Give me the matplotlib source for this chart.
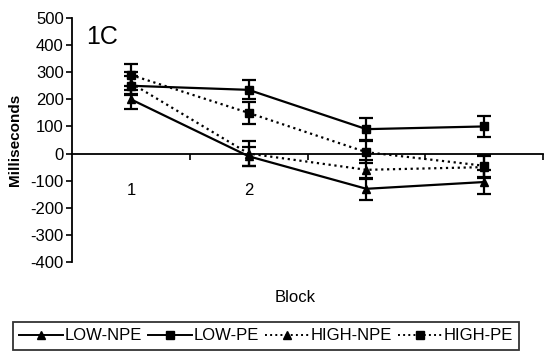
import numpy as np
import matplotlib.pyplot as plt
from matplotlib.lines import Line2D

plt.rcParams['font.family'] = ['Liberation Sans Narrow', 'Liberation Sans', 'DejaVu Sans']
plt.rcParams['axes.unicode_minus'] = False

blocks = [1, 2, 3, 4]
tick_labels = ['1', '2', '', '']

low_npe = [200, -10, -130, -105]
low_pe = [250, 235, 90, 100]
high_npe = [260, 0, -60, -50]
high_pe = [290, 150, 5, -45]

low_npe_err = [35, 35, 40, 45]
low_pe_err = [35, 35, 40, 40]
high_npe_err = [40, 45, 35, 40]
high_pe_err = [40, 40, 40, 40]

series = [
    ('LOW-NPE', low_npe, low_npe_err, '-', '^'),
    ('LOW-PE', low_pe, low_pe_err, '-', 's'),
    ('HIGH-NPE', high_npe, high_npe_err, ':', '^'),
    ('HIGH-PE', high_pe, high_pe_err, ':', 's'),
]

fig = plt.figure(figsize=(5.44, 3.58), dpi=100)
ax = fig.add_axes([72 / 544, 1 - 262 / 358, (543 - 72) / 544, (262 - 18) / 358])

handles = []
for name, vals, err, ls, mk in series:
    ax.errorbar(blocks, vals, yerr=err, color='black', linestyle=ls, linewidth=1.6,
                marker=mk, markersize=6, capsize=5, elinewidth=1.6, capthick=1.6)
    handles.append(Line2D([0], [0], color='black', linestyle=ls, linewidth=1.4,
                          marker=mk, markersize=6, label=name))

ax.set_xlim(0.5, 4.5)
ax.set_ylim(-400, 500)
ax.set_yticks(np.arange(-400, 501, 100))
ax.tick_params(axis='y', labelsize=12, length=4, width=1.2, direction='out', pad=2)

ax.spines['top'].set_visible(False)
ax.spines['right'].set_visible(False)
ax.spines['bottom'].set_position(('data', 0))
ax.spines['left'].set_linewidth(1.3)
ax.spines['bottom'].set_linewidth(1.3)

ax.set_xticks([1.5, 2.5, 3.5, 4.5])
ax.set_xticklabels([])
ax.set_xticks(blocks, minor=True)
ax.set_xticklabels(tick_labels, minor=True)
ax.tick_params(axis='x', which='major', length=4, width=1.2, direction='out')
ax.tick_params(axis='x', which='minor', length=0, labelsize=12, pad=21)

ax.text(0.03, 0.97, '1C', transform=ax.transAxes, fontsize=18,
        family=['Liberation Sans', 'DejaVu Sans'], va='top', ha='left')

fig.text(15 / 544, 1 - 140 / 358, 'Milliseconds', rotation=90, fontsize=11,
         fontweight='bold', family=['Liberation Sans', 'DejaVu Sans'], ha='center', va='center')
fig.text(295 / 544, 1 - 298 / 358, 'Block', fontsize=12, ha='center', va='center')

leg = fig.legend(handles=handles, ncol=4, loc='center', bbox_to_anchor=(266 / 544, 1 - 336 / 358),
                 frameon=True, fancybox=False, edgecolor='black', fontsize=12,
                 handlelength=2.6, handletextpad=0.1, columnspacing=0.4, borderpad=0.4)
leg.get_frame().set_linewidth(1.3)

fig.savefig('out.png', dpi=100)
